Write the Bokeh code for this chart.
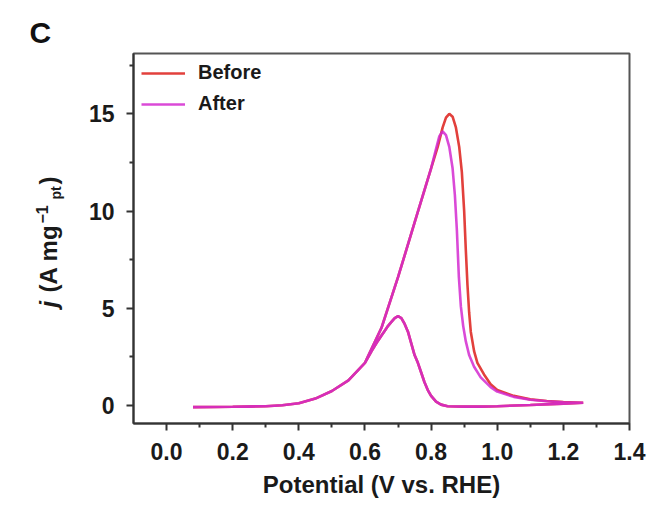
import math
from bokeh.plotting import figure
from bokeh.layouts import row
from bokeh.models import (Range1d, FixedTicker, NumeralTickFormatter, Label, Legend, LegendItem)
from bokeh.embed import file_html
from bokeh.resources import INLINE

# ---- data ----
# Before: forward scan then backward scan
before_v = [0.08, 0.15, 0.20, 0.25, 0.30, 0.35, 0.40, 0.45, 0.50, 0.55, 0.60, 0.65, 0.70, 0.75,
            0.80, 0.82, 0.835, 0.845, 0.855, 0.865, 0.875, 0.885, 0.893, 0.90, 0.905, 0.91,
            0.915, 0.92, 0.93, 0.94, 0.96, 0.98, 1.00, 1.05, 1.10, 1.15, 1.20, 1.26,
            1.20, 1.10, 1.00, 0.95, 0.90, 0.85, 0.83, 0.815, 0.80, 0.79, 0.78, 0.77, 0.76,
            0.75, 0.74, 0.73, 0.72, 0.71, 0.70, 0.69, 0.68, 0.67, 0.66, 0.65, 0.64, 0.62,
            0.60, 0.55, 0.50, 0.45, 0.40, 0.35, 0.30, 0.20, 0.08]
before_j = [-0.08, -0.07, -0.06, -0.05, -0.03, 0.02, 0.12, 0.36, 0.75, 1.3, 2.2, 4.0, 6.6, 9.4,
            12.2, 13.3, 14.3, 14.8, 15.0, 14.85, 14.3, 13.3, 12.0, 10.0, 8.0, 6.2,
            4.8, 3.8, 2.8, 2.2, 1.6, 1.1, 0.8, 0.5, 0.32, 0.24, 0.18, 0.15,
            0.10, 0.03, -0.03, -0.05, -0.05, -0.03, 0.05, 0.2, 0.5, 0.8, 1.2, 1.7, 2.2,
            2.6, 3.2, 3.8, 4.2, 4.5, 4.6, 4.5, 4.3, 4.1, 3.85, 3.6, 3.35, 2.8,
            2.2, 1.3, 0.75, 0.36, 0.12, 0.02, -0.03, -0.06, -0.08]

# After: forward scan then backward scan
after_v = [0.08, 0.15, 0.20, 0.25, 0.30, 0.35, 0.40, 0.45, 0.50, 0.55, 0.60, 0.65, 0.70, 0.75,
           0.80, 0.815, 0.825, 0.835, 0.845, 0.855, 0.865, 0.872, 0.878, 0.884, 0.89, 0.897,
           0.905, 0.915, 0.93, 0.95, 0.98, 1.00, 1.05, 1.10, 1.15, 1.20, 1.26,
           1.20, 1.10, 1.00, 0.95, 0.90, 0.85, 0.83, 0.815, 0.80, 0.79, 0.78, 0.77, 0.76,
           0.75, 0.74, 0.73, 0.72, 0.71, 0.70, 0.69, 0.68, 0.67, 0.66, 0.65, 0.64, 0.62,
           0.60, 0.55, 0.50, 0.45, 0.40, 0.35, 0.30, 0.20, 0.08]
after_j = [-0.08, -0.07, -0.06, -0.05, -0.03, 0.02, 0.12, 0.36, 0.75, 1.3, 2.2, 4.0, 6.6, 9.4,
           12.2, 13.2, 13.85, 14.1, 13.9, 13.3, 12.2, 10.8, 9.0, 6.6, 5.1, 4.1,
           3.3, 2.6, 2.0, 1.45, 0.95, 0.72, 0.45, 0.30, 0.22, 0.17, 0.15,
           0.10, 0.03, -0.03, -0.05, -0.05, -0.03, 0.05, 0.2, 0.5, 0.8, 1.2, 1.7, 2.2,
           2.6, 3.2, 3.8, 4.2, 4.5, 4.6, 4.5, 4.3, 4.1, 3.85, 3.6, 3.35, 2.8,
           2.2, 1.3, 0.75, 0.36, 0.12, 0.02, -0.03, -0.06, -0.08]

x_ticks = [0.0, 0.2, 0.4, 0.6, 0.8, 1.0, 1.2, 1.4]
x_minor = [0.1, 0.3, 0.5, 0.7, 0.9, 1.1, 1.3]
y_ticks = [0, 5, 10, 15]
y_minor = [2.5, 7.5, 12.5, 17.5]
series_names = ["Before", "After"]

FONT = "Liberation Sans"
TXT = "#1a1a1a"
H = 505
LW = 70            # width of the side strip holding the panel letter and y title
TOP, BOTTOM = 53, 423   # frame edges (row aligns both frames)

# ---- side strip: panel letter (as its title) and rotated y-axis title ----
side = figure(width=LW, height=H, output_backend="svg", toolbar_location=None,
              x_range=Range1d(0, LW), y_range=Range1d(BOTTOM, TOP),
              min_border=0, outline_line_color=None)
side.axis.visible = False
side.grid.visible = False
side.title.text = "C"
side.title.align = "left"
side.title.offset = 29
side.title.text_font = FONT
side.title.text_font_style = "bold"
side.title.text_font_size = "30px"
side.title.text_color = "#111111"
side.title.standoff = 10

def lab(x, y, text, size, style="bold"):
    side.add_layout(Label(x=x, y=y, text=text, angle=math.pi / 2,
                          text_font=FONT, text_font_style=style,
                          text_font_size=size, text_color=TXT,
                          text_align="left", text_baseline="middle"))

lab(48, 307, "j", "24px", style="bold italic")
lab(48, 292, "(A mg", "24px")
lab(41, 223, "\u22121", "16px")
lab(55, 199, "pt", "14px")
lab(48, 184, ")", "24px")

# ---- main plot ----
p = figure(width=585, height=H, output_backend="svg", toolbar_location=None,
           x_range=Range1d(-0.1, 1.4), y_range=Range1d(-0.92, 18.1),
           min_border_left=63, min_border_right=26, min_border_top=TOP,
           min_border_bottom=H - BOTTOM)
p.xgrid.visible = False
p.ygrid.visible = False
p.outline_line_color = "#555555"
p.outline_line_width = 2

r_before = p.line(before_v, before_j, line_color="#e2403c", line_width=2.6)
r_after = p.line(after_v, after_j, line_color="#d42ad0", line_width=2.6, line_alpha=0.85)

for ax in (p.xaxis[0], p.yaxis[0]):
    ax.axis_line_color = "#333333"
    ax.axis_line_width = 2
    ax.major_tick_line_color = "#333333"
    ax.major_tick_line_width = 2
    ax.minor_tick_line_color = "#333333"
    ax.minor_tick_line_width = 2
    ax.major_tick_in = 0
    ax.major_tick_out = 7
    ax.minor_tick_in = 0
    ax.minor_tick_out = 4
    ax.major_label_text_font = FONT
    ax.major_label_text_font_style = "bold"
    ax.major_label_text_font_size = "23px"
    ax.major_label_text_color = TXT
    ax.major_label_standoff = 12

p.xaxis.ticker = FixedTicker(ticks=x_ticks, minor_ticks=x_minor)
p.yaxis.ticker = FixedTicker(ticks=y_ticks, minor_ticks=y_minor)
p.xaxis.formatter = NumeralTickFormatter(format="0.0")
p.yaxis.formatter = NumeralTickFormatter(format="0")

p.xaxis.axis_label = "Potential (V vs. RHE)"
p.xaxis.axis_label_text_font = FONT
p.xaxis.axis_label_text_font_style = "bold"
p.xaxis.axis_label_text_font_size = "24px"
p.xaxis.axis_label_text_color = TXT
p.xaxis.axis_label_standoff = 8

legend = Legend(items=[LegendItem(label=series_names[0], renderers=[r_before]),
                       LegendItem(label=series_names[1], renderers=[r_after])],
                location="top_left")
legend.border_line_color = None
legend.background_fill_alpha = 0
legend.margin = 8
legend.padding = 4
legend.spacing = 8
legend.glyph_width = 44
legend.glyph_height = 20
legend.label_standoff = 13
legend.label_text_font = FONT
legend.label_text_font_style = "bold"
legend.label_text_font_size = "20px"
legend.label_text_color = TXT
p.add_layout(legend)

layout = row(side, p, spacing=0)
open("out.html", "w").write(file_html(layout, INLINE))
